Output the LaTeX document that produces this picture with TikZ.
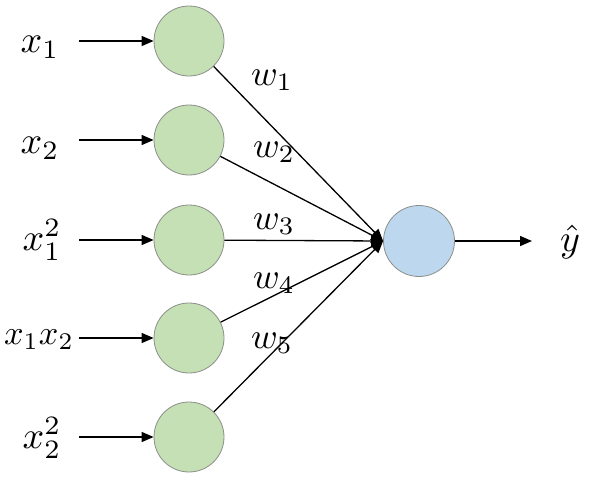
\documentclass[tikz,border=0pt]{standalone}
\usetikzlibrary{arrows.meta}
\definecolor{gfill}{HTML}{C5E0B4}
\definecolor{bfill}{HTML}{BDD7EE}
\definecolor{cborder}{HTML}{8A8F8A}
\tikzset{
  neuron/.style={circle,draw=cborder,line width=0.8pt,minimum size=70pt,inner sep=0pt},
  inp/.style={neuron,fill=gfill},
  outp/.style={neuron,fill=bfill,minimum size=71pt},
  lbl/.style={scale=3.8,inner sep=0pt},
  wl/.style={scale=3.6,inner sep=0pt},
  arr/.style={line width=1.4pt,-{Triangle[length=12pt,width=10pt]}},
  edge/.style={line width=1.3pt,-{Triangle[length=12pt,width=10pt]}}
}
\begin{document}
\begin{tikzpicture}[x=1pt,y=-1pt]
\useasboundingbox (0,0) rectangle (592,477);
\node[inp] (g1) at (189,41) {};
\node[inp] (g2) at (189,140) {};
\node[inp] (g3) at (189,240) {};
\node[inp] (g4) at (189,338) {};
\node[inp] (g5) at (189,437) {};
\node[outp] (o) at (419,241) {};
\coordinate (a1) at (79,41);
\coordinate (a2) at (79,140);
\coordinate (a3) at (79,240);
\coordinate (a4) at (79,338);
\coordinate (a5) at (79,437);
\coordinate (yo) at (532,241);
\node[lbl] (l1) at (40,47) {$x_1$};
\node[lbl] (l2) at (40,148) {$x_2$};
\node[lbl] (l3) at (42,240) {$x_1^2$};
\node[lbl,scale=0.9] (l4) at (39,340) {$x_1x_2$};
\node[lbl] (l5) at (42,438) {$x_2^2$};
\node[lbl] (yh) at (570,242) {$\hat{y}$};
\foreach \i in {1,...,5}{\draw[arr] (a\i) -- (g\i);}
\foreach \i in {1,...,5}{\draw[edge] (g\i) -- (o.west);}
\draw[arr] (o) -- (yo);
\node[wl] (w1) at (272,80) {$w_1$};
\node[wl] (w2) at (274,152) {$w_2$};
\node[wl] (w3) at (274,224) {$w_3$};
\node[wl] (w4) at (274,283) {$w_4$};
\node[wl] (w5) at (272,343) {$w_5$};
\end{tikzpicture}
\end{document}
